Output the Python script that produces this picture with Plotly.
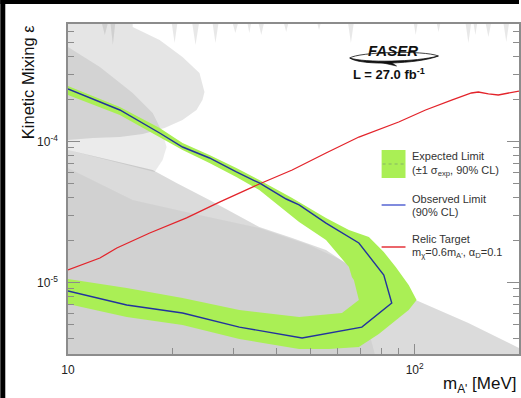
import plotly.graph_objects as go

# ---------------- data ----------------
# Observed limit contour (MeV, epsilon)
obs_mass = [10, 14.11, 18.38, 21.40, 25.59, 30.59, 35.63, 42.60, 46.42, 55.50, 69.03, 81.47,
            85.89, 70.41, 47.34, 35.63, 31.21, 21.40, 14.77, 10]
obs_eps = [2.357e-4, 1.673e-4, 1.149e-4, 9.14e-5, 7.64e-5, 6.08e-5, 5.08e-5, 3.91e-5, 3.55e-5,
           2.64e-5, 1.906e-5, 1.130e-5, 7.15e-6, 4.83e-6, 4.04e-6, 4.53e-6, 4.83e-6, 6.08e-6,
           6.93e-6, 8.70e-6]

# Expected +-1 sigma band: outer contour then inner contour
band_out_mass = [10, 14.11, 18.38, 21.40, 25.59, 30.59, 35.63, 44.33, 55.50, 64.62, 73.79, 81.47,
                 88.19, 96.12, 101.3, 96.12, 89.95, 78.82, 69.03, 56.61, 46.42, 31.21, 21.40,
                 14.77, 10]
band_out_eps = [2.475e-4, 1.757e-4, 1.246e-4, 9.76e-5, 8.02e-5, 6.49e-5, 5.33e-5, 3.97e-5, 2.87e-5,
                2.357e-5, 2.10e-5, 1.645e-5, 1.288e-5, 9.60e-6, 7.51e-6, 6.38e-6, 5.60e-6, 4.31e-6,
                3.49e-6, 3.38e-6, 3.38e-6, 3.97e-6, 4.995e-6, 5.69e-6, 7.04e-6]
band_in_mass = [10, 14.77, 21.40, 31.21, 46.42, 61.70, 69.03, 66.79, 65.92, 64.62, 55.50, 46.42,
                35.63, 30.59, 25.59, 21.40, 18.38, 14.11, 10]
band_in_eps = [1.058e-5, 9.14e-6, 7.77e-6, 6.38e-6, 5.69e-6, 6.08e-6, 7.51e-6, 1.042e-5, 1.094e-5,
               1.288e-5, 2.00e-5, 2.69e-5, 4.53e-5, 5.60e-5, 7.04e-5, 8.70e-5, 1.076e-4, 1.541e-4,
               2.137e-4]

# Relic target line
relic_mass = [10, 12.36, 13.83, 17.21, 21.98, 27.34, 35.63, 44.33, 55.50, 69.03, 89.95, 107.5,
              127.8, 145.8, 152.7, 163.2, 174.3, 186.3, 200]
relic_eps = [1.227e-5, 1.492e-5, 1.757e-5, 2.244e-5, 2.87e-5, 3.72e-5, 4.995e-5, 6.28e-5, 8.29e-5,
             1.076e-4, 1.375e-4, 1.673e-4, 1.968e-4, 2.208e-4, 2.244e-4, 2.173e-4, 2.137e-4,
             2.208e-4, 2.28e-4]

# Previous constraints (grey regions)
lobe1_mass = [10, 15.37, 15.37, 18.38, 21.40, 23.95, 24.76, 24.43, 23.48, 21.40, 19.00, 16.43,
              14.11, 11.80, 10]
lobe1_eps = [8e-4, 8e-4, 6.49e-4, 5.25e-4, 3.97e-4, 3.06e-4, 2.244e-4, 1.968e-4, 1.673e-4,
             1.421e-4, 1.246e-4, 1.130e-4, 1.076e-4, 1.058e-4, 1.025e-4]

lobe2_mass = [10, 12.36, 15.37, 17.55, 18.75, 19.25, 18.75, 17.78, 10]
lobe2_eps = [4.68e-4, 3.38e-4, 2.208e-4, 1.593e-4, 1.149e-4, 9.14e-5, 7.39e-5, 6.08e-5, 8.70e-5]

dump_light_mass = [10, 17.55, 20.57, 25.59, 32.69, 35.63, 44.33, 55.50, 67.68, 84.2, 100.7,
                   142.9, 200, 200, 10]
dump_light_eps = [8.70e-5, 6.28e-5, 5.08e-5, 3.85e-5, 2.77e-5, 2.475e-5, 2.068e-5, 1.70e-5,
                  1.227e-5, 9.60e-6, 7.51e-6, 5.16e-6, 3.43e-6, 2e-6, 2e-6]

dump_dark_mass = [10, 15.37, 23.95, 35.63, 49.6, 63.35, 67.68, 72.3, 80.5, 10]
dump_dark_eps = [6.49e-5, 3.85e-5, 3.01e-5, 2.435e-5, 1.845e-5, 1.398e-5, 1.042e-5, 5.42e-6,
                 2e-6, 2e-6]

spike_mass = [10, 12.5, 12.77, 13.05, 13.25, 13.47, 13.7, 19.9, 20.3, 20.7, 22.8, 23.33, 23.9,
              26.1, 26.63, 27.2, 29.8, 30.39, 31.0, 32.9, 33.34, 33.8, 35.4, 36.11, 36.8,
              41.9, 42.6, 43.3, 52.3, 52.98, 53.7, 64.2, 65.48, 66.8, 99.3, 100.7, 102.1,
              115.6, 117.2, 118.8, 140.1, 142.9, 145.7, 147.7, 149.7, 151.7, 160.0, 163.2, 166.4,
              180.2, 183.8, 187.4, 200, 200, 10]
spike_eps = [7e-4, 7e-4, 5.69e-4, 7e-4, 7e-4, 4.83e-4, 7e-4, 7e-4, 5.0e-4, 7e-4, 7e-4, 4.83e-4, 7e-4,
             7e-4, 5.0e-4, 7e-4, 7e-4, 5.88e-4, 7e-4, 7e-4, 5.88e-4, 7e-4, 7e-4, 5.69e-4, 7e-4,
             7e-4, 5.98e-4, 7e-4, 7e-4, 6.18e-4, 7e-4, 7e-4, 5.0e-4, 7e-4, 7e-4, 5.69e-4, 7e-4,
             7e-4, 5.98e-4, 7e-4, 7e-4, 5.0e-4, 7e-4, 7e-4, 5.69e-4, 7e-4, 7e-4, 5.51e-4, 7e-4,
             7e-4, 5.08e-4, 7e-4, 7e-4, 1e-3, 1e-3]

x_major = [10, 100]
x_major_text = ["10", "10<sup>2</sup>"]
x_minor = [20, 30, 40, 50, 60, 70, 80, 90, 200]
y_major = [1e-5, 1e-4]
y_major_text = ["10<sup>-5</sup>", "10<sup>-4</sup>"]
y_minor = [3e-6, 4e-6, 5e-6, 6e-6, 7e-6, 8e-6, 9e-6, 2e-5, 3e-5, 4e-5, 5e-5, 6e-5, 7e-5, 8e-5,
           9e-5, 2e-4, 3e-4, 4e-4, 5e-4, 6e-4]

# ---------------- layout helpers ----------------
W, H = 521, 398
L, R, T, B = 68, 0, 24, 44
PW, PH = W - L - R, H - T - B
FONT = "Liberation Sans, Arial, Helvetica, sans-serif"
GREEN = "#aaef55"
BLUE = "#22339e"
RED = "#e3242b"
AXC = "#8c8c8c"


def px(x):
    return (x - L) / PW


def py(y):
    return (H - B - y) / PH


fig = go.Figure()


def region(m, e, color):
    fig.add_trace(go.Scatter(x=m, y=e, mode="lines", fill="toself", fillcolor=color,
                             line=dict(width=0), hoverinfo="skip", showlegend=False))


region(dump_light_mass, dump_light_eps, "rgba(0,0,0,0.14)")
region(dump_dark_mass, dump_dark_eps, "rgba(0,0,0,0.045)")
region(lobe1_mass, lobe1_eps, "rgba(0,0,0,0.10)")
region(lobe2_mass, lobe2_eps, "rgba(0,0,0,0.08)")
region(spike_mass, spike_eps, "rgba(0,0,0,0.09)")

# expected band
fig.add_trace(go.Scatter(x=band_out_mass + band_in_mass, y=band_out_eps + band_in_eps,
                         mode="lines", fill="toself", fillcolor=GREEN, line=dict(width=0),
                         hoverinfo="skip", showlegend=False))
# relic target
fig.add_trace(go.Scatter(x=relic_mass, y=relic_eps, mode="lines",
                         line=dict(color=RED, width=1.3), showlegend=False))
# observed
fig.add_trace(go.Scatter(x=obs_mass, y=obs_eps, mode="lines",
                         line=dict(color=BLUE, width=1.4), showlegend=False))

shapes = []
annotations = []

# black borders of the screenshot
shapes.append(dict(type="rect", xref="paper", yref="paper", x0=px(0), x1=px(5), y0=py(398),
                   y1=py(0), fillcolor="black", line=dict(width=0), layer="above"))
shapes.append(dict(type="rect", xref="paper", yref="paper", x0=px(0), x1=px(521), y0=py(4),
                   y1=py(0), fillcolor="black", line=dict(width=0), layer="above"))

# legend
shapes.append(dict(type="rect", xref="paper", yref="paper", x0=px(383), x1=px(407), y0=py(178),
                   y1=py(150), fillcolor=GREEN, line=dict(width=0)))
shapes.append(dict(type="line", xref="paper", yref="paper", x0=px(384), x1=px(406), y0=py(164),
                   y1=py(164), line=dict(color="rgba(90,110,120,0.45)", width=1, dash="dot")))
shapes.append(dict(type="line", xref="paper", yref="paper", x0=px(383), x1=px(407), y0=py(205),
                   y1=py(205), line=dict(color="#4a5ad0", width=1.4)))
shapes.append(dict(type="line", xref="paper", yref="paper", x0=px(383), x1=px(407), y0=py(247),
                   y1=py(247), line=dict(color=RED, width=1.4)))


def note(text, x, y, size=11, xanchor="left", color="#333333", **kw):
    annotations.append(dict(text=text, x=px(x), y=py(y), xref="paper", yref="paper",
                            xanchor=xanchor, yanchor="middle", showarrow=False,
                            font=dict(family=FONT, size=size, color=color), **kw))


note("Expected Limit", 412, 156)
note("(±1 σ<sub>exp</sub>, 90% CL)", 412, 171)
note("Observed Limit", 412, 199)
note("(90% CL)", 412, 212)
note("Relic Target", 412, 239)
note("m<sub>χ</sub>=0.6m<sub>A'</sub>, α<sub>D</sub>=0.1", 412, 253)

# FASER logo
note("<b><i>FASER</i></b>", 394, 51, size=15, xanchor="center", color="#111111")
swoosh = ("M {a},{b} C {c},{d} {e},{f} {g},{h} C {i},{j} {k},{l} {a},{b} Z").format(
    a=px(351), b=py(58), c=px(362), d=py(66), e=px(420), f=py(64), g=px(440), h=py(56),
    i=px(418), j=py(62), k=px(366), l=py(63))
shapes.append(dict(type="path", xref="paper", yref="paper", path=swoosh,
                   fillcolor="#111111", line=dict(color="#111111", width=0.8)))
top_arc = ("M {a},{b} C {c},{d} {e},{f} {g},{h}").format(
    a=px(351), b=py(58), c=px(360), d=py(52), e=px(425), f=py(50), g=px(440), h=py(56))
shapes.append(dict(type="path", xref="paper", yref="paper", path=top_arc,
                   line=dict(color="#111111", width=0.8)))
tail = ("M {a},{b} L {c},{d} L {e},{f} Z").format(
    a=px(380), b=py(62), c=px(398), d=py(66), e=px(392), f=py(62))
shapes.append(dict(type="path", xref="paper", yref="paper", path=tail,
                   fillcolor="#111111", line=dict(color="#111111", width=0.6)))
note("<b>L = 27.0 fb<sup>-1</sup></b>", 390, 74, size=13, xanchor="center", color="#111111")

# axis titles
note("Kinetic Mixing ε", 28, 82, size=16.5, xanchor="center", color="#111111", textangle=-90)
note("m<sub>A'</sub> [MeV]", 521, 385, size=17, xanchor="right", color="#111111")

fig.update_layout(
    width=W, height=H, margin=dict(l=L, r=R, t=T, b=B),
    paper_bgcolor="white", plot_bgcolor="white",
    shapes=shapes, annotations=annotations, showlegend=False,
    xaxis=dict(type="log", range=[1, 2.30103], showgrid=False, zeroline=False,
               tickmode="array", tickvals=x_major, ticktext=x_major_text,
               ticks="inside", ticklen=10, tickwidth=1.2, tickcolor=AXC,
               minor=dict(tickmode="array", tickvals=x_minor, ticks="inside", ticklen=6,
                          tickwidth=1.2, tickcolor=AXC, showgrid=False),
               showline=True, linecolor=AXC, linewidth=1.5, mirror=True,
               tickfont=dict(family=FONT, size=12, color="#222222"), ticklabelstandoff=4),
    yaxis=dict(type="log", range=[-5.507, -3.1667], showgrid=False, zeroline=False,
               tickmode="array", tickvals=y_major, ticktext=y_major_text,
               ticks="inside", ticklen=12, tickwidth=1.2, tickcolor=AXC,
               minor=dict(tickmode="array", tickvals=y_minor, ticks="inside", ticklen=6,
                          tickwidth=1.2, tickcolor=AXC, showgrid=False),
               showline=True, linecolor=AXC, linewidth=1.5, mirror="ticks",
               tickfont=dict(family=FONT, size=12, color="#222222"), ticklabelstandoff=6),
)

fig.write_html("out.html", config={"displayModeBar": False},
               post_script="document.body.style.margin='0';document.body.style.overflow='hidden';")
